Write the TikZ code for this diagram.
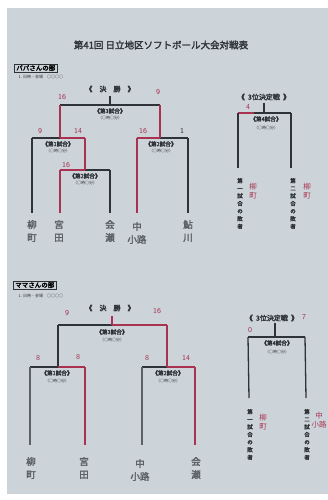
\documentclass[tikz,border=0pt]{standalone}
\usepackage{fontspec}
\newfontfamily\jp[AutoFakeBold=2.5]{Noto Sans CJK JP}
\definecolor{paper}{HTML}{CCD4DA}
\definecolor{ink}{HTML}{2E3337}
\definecolor{softink}{HTML}{5B6166}
\definecolor{redink}{HTML}{A8324F}
\tikzset{
  blk/.style={draw=ink,line width=1.3pt},
  gry/.style={draw=softink,line width=1.1pt},
  redl/.style={draw=redink,line width=2.2pt},
  lbl/.style={font=\jp\bfseries\fontsize{5.6}{6}\selectfont,text=ink,inner sep=0pt},
  tim/.style={font=\jp\fontsize{4}{4.5}\selectfont,text=ink,inner sep=0pt},
  head/.style={font=\jp\bfseries\fontsize{7}{8}\selectfont,text=ink,inner sep=0pt},
  score/.style={font=\sffamily\fontsize{7.5}{7.5}\selectfont,text=redink,inner sep=0pt},
  tname/.style={font=\jp\bfseries\fontsize{9.5}{13}\selectfont,text=softink,align=center,inner sep=0pt},
  vtxt/.style={font=\jp\bfseries\fontsize{5.5}{7.6}\selectfont,text=ink,align=center,inner sep=0pt},
  rname/.style={font=\jp\fontsize{7.5}{8.5}\selectfont,text=redink,align=center,inner sep=0pt},
}
\begin{document}
\begin{tikzpicture}[x=1pt,y=-1pt]
\useasboundingbox (0,0) rectangle (328,500);
\fill[white] (0,0) rectangle (328,500);
\fill[paper] (7,8) rectangle (328,494);
% title
\node[font=\jp\bfseries\fontsize{9.5}{10}\selectfont,text=ink] (title) at (161,45) {第41回\ 日立地区ソフトボール大会対戦表};

% ===== Papa section =====
\node[draw=ink,line width=0.6pt,font=\jp\bfseries\fontsize{6.5}{7}\selectfont,inner xsep=2pt,inner ysep=1pt,anchor=west] (papa) at (14,68) {パパさんの部};
\node[font=\jp\fontsize{4}{5}\selectfont,text=ink,anchor=west] (papasub) at (15,77) {1. 日時・会場　○○○○};
\node[head] (pfinal) at (110,89) {《\quad 決\quad 勝\quad 》};
\node[score] (ps1) at (62,97) {16};
\node[score] (ps2) at (158,92) {9};
\coordinate (pfs) at (110,96);
\coordinate (pfm) at (110,105);
\coordinate (pfl) at (60,105);
\coordinate (pfr) at (160,105);
\draw[blk] (pfs) -- (pfm);
\draw[blk] (pfl) -- (pfr);
\node[lbl] (pl3) at (110,111) {《第3試合》};
\node[tim] (pt3) at (110,118) {（○時○分）};
% left semi
\coordinate (psl1) at (32,138);
\coordinate (psl2) at (85,138);
\coordinate (pslm) at (60,138);
\draw[blk] (psl1) -- (psl2);
\draw[redl] (pfl) -- (pslm);
\draw[redl] (pslm) -- (psl2);
\node[score] (ps3) at (40,131) {9};
\node[score] (ps4) at (78,131) {14};
\node[lbl] (pl1) at (58,144) {《第1試合》};
\node[tim] (pt1) at (58,151) {（○時○分）};
% sub bracket
\coordinate (pbl) at (60,170);
\coordinate (pbr) at (110,170);
\coordinate (pbm) at (85,170);
\draw[blk] (pbl) -- (pbr);
\draw[redl] (psl2) -- (pbm);
\draw[redl] (pbl) -- (pbm);
\node[score] (ps5) at (66,165) {16};
\node[lbl] (plx) at (85,176) {《第2試合》};
\node[tim] (ptx) at (85,183) {（○時○分）};
% right semi
\coordinate (psr1) at (137,138);
\coordinate (psr2) at (188,138);
\draw[blk] (psr1) -- (psr2);
\draw[redl] (pfr) -- (160,138);
\draw[redl] (psr1) -- (160,138);
\node[score] (ps6) at (143,131) {16};
\node[score,text=ink] (ps7) at (182,131) {1};
\node[lbl] (pl2) at (161,144) {《第2試合》};
\node[tim] (pt2) at (161,151) {（○時○分）};
% legs
\coordinate (pe1) at (32,213);
\coordinate (pe2) at (60,213);
\coordinate (pe3) at (110,213);
\coordinate (pe4) at (137,213);
\coordinate (pe5) at (188,213);
\draw[blk] (psl1) -- (pe1);
\draw[redl] (pbl) -- (pe2);
\draw[blk] (pbr) -- (pe3);
\draw[redl] (psr1) -- (pe4);
\draw[blk] (psr2) -- (pe5);
% names
\node[tname] (pn1) at (32,231) {柳\\町};
\node[tname] (pn2) at (59,231) {宮\\田};
\node[tname] (pn3) at (110,231) {会\\瀬};
\node[tname] (pn4) at (137,233) {中\\小路};
\node[tname] (pn5) at (188,231) {鮎\\川};
% third place
\node[head] (p3h) at (264,97) {《\ \ 3位決定戦\ \ 》};
\coordinate (p3s) at (264,103);
\coordinate (p3m) at (264,113);
\coordinate (p3l) at (238,113);
\coordinate (p3r) at (291,113);
\draw[blk] (p3s) -- (p3m);
\draw[blk] (p3l) -- (p3r);
\draw[redl,line width=1.4pt] (p3l) -- (254,113);
\node[score] (p3sc) at (248,107) {4};
\node[lbl] (p3l4) at (266,119) {《第4試合》};
\node[tim] (p3t4) at (266,128) {（○時○分）};
\coordinate (p3e1) at (238,168);
\coordinate (p3e2) at (291,168);
\draw[blk] (p3l) -- (p3e1);
\draw[blk] (p3r) -- (p3e2);
\node[vtxt,anchor=north] (p3v1) at (240,178) {第\\一\\試\\合\\の\\敗\\者};
\node[vtxt,anchor=north] (p3v2) at (293,178) {第\\二\\試\\合\\の\\敗\\者};
\node[rname,anchor=north] (p3r1) at (253,183) {柳\\町};
\node[rname,anchor=north] (p3r2) at (307,183) {柳\\町};

% ===== Mama section =====
\node[draw=ink,line width=0.6pt,font=\jp\bfseries\fontsize{6.5}{7}\selectfont,inner xsep=2pt,inner ysep=1pt,anchor=west] (mama) at (13,285) {ママさんの部};
\node[font=\jp\fontsize{4}{5}\selectfont,text=ink,anchor=west] (mamasub) at (15,296) {1. 日時・会場　○○○○};
\node[head] (mfinal) at (110,308) {《\quad 決\quad 勝\quad 》};
\node[score] (ms1) at (67,313) {9};
\node[score] (ms2) at (157,311) {16};
\coordinate (mfs) at (112,316);
\coordinate (mfm) at (112,325);
\coordinate (mfl) at (58,325);
\coordinate (mfr) at (167,325);
\draw[blk] (mfl) -- (mfr);
\draw[redl] (mfs) -- (mfm);
\draw[redl] (mfm) -- (mfr);
\node[lbl] (ml3) at (112,332) {《第3試合》};
\node[tim] (mt3) at (112,340) {（○時○分）};
% left semi
\coordinate (msl1) at (30,367);
\coordinate (msl2) at (85,367);
\coordinate (mslm) at (58,367);
\draw[blk] (msl1) -- (msl2);
\draw[blk] (mfl) -- (mslm);
\draw[redl] (mslm) -- (msl2);
\node[score] (ms3) at (38,358) {8};
\node[score] (ms4) at (78,357) {8};
\node[lbl] (ml1) at (57,373) {《第1試合》};
\node[tim] (mt1) at (57,381) {（○時○分）};
% right semi
\coordinate (msr1) at (142,367);
\coordinate (msr2) at (195,367);
\draw[blk] (msr1) -- (msr2);
\draw[redl] (mfr) -- (167,367);
\draw[redl] (167,367) -- (msr2);
\node[score] (ms5) at (147,358) {8};
\node[score] (ms6) at (186,358) {14};
\node[lbl] (ml2) at (168,373) {《第2試合》};
\node[tim] (mt2) at (168,381) {（○時○分）};
% legs
\coordinate (me1) at (30,445);
\coordinate (me2) at (85,445);
\coordinate (me3) at (142,445);
\coordinate (me4) at (195,445);
\draw[gry] (msl1) -- (me1);
\draw[redl] (msl2) -- (me2);
\draw[gry] (msr1) -- (me3);
\draw[redl] (msr2) -- (me4);
% names
\node[tname] (mn1) at (31,468) {柳\\町};
\node[tname] (mn2) at (84,468) {宮\\田};
\node[tname] (mn3) at (140,470) {中\\小路};
\node[tname] (mn4) at (196,468) {会\\瀬};
% third place
\node[head] (m3h) at (272,318) {《\ \ 3位決定戦\ \ 》};
\coordinate (m3s) at (275,323);
\coordinate (m3m) at (275,337);
\coordinate (m3l) at (248,337);
\coordinate (m3r) at (305,337);
\draw[blk] (m3s) -- (m3m);
\draw[blk] (m3l) -- (m3r);
\node[score] (m3sc1) at (250,330) {0};
\node[score] (m3sc2) at (304,317) {7};
\node[lbl] (m3l4) at (277,343) {《第4試合》};
\node[tim] (m3t4) at (277,352) {（○時○分）};
\coordinate (m3e1) at (249,398);
\coordinate (m3e2) at (306,398);
\draw[blk] (m3l) -- (m3e1);
\draw[blk] (m3r) -- (m3e2);
\node[vtxt,anchor=north] (m3v1) at (250,409) {第\\一\\試\\合\\の\\敗\\者};
\node[vtxt,anchor=north] (m3v2) at (307,409) {第\\二\\試\\合\\の\\敗\\者};
\node[rname,anchor=north] (m3r1) at (263,414) {柳\\町};
\node[rname,anchor=north] (m3r2) at (319,412) {中\\小路};
\end{tikzpicture}
\end{document}
